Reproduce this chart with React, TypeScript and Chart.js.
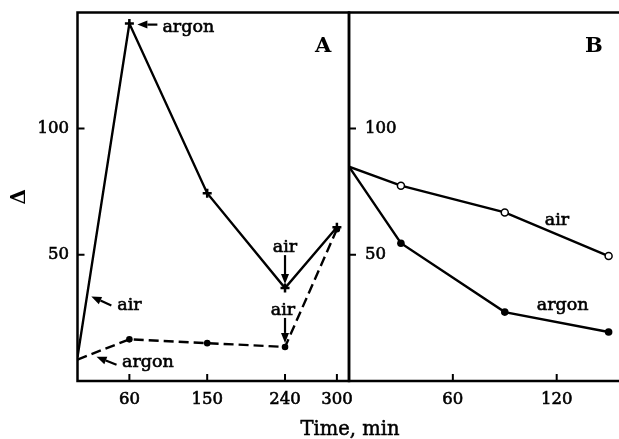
import React, { useEffect, useRef } from 'react';
import { Chart, registerables } from 'chart.js';

Chart.register(...registerables);

// ---- data ----
const A_TIMES = [0, 60, 150, 240, 300];
const A_SOLID = [9.5, 141.6, 74.4, 36.8, 60.9];
const A_DASHED = [8.5, 16.5, 15.0, 13.5, 60.1];

const B_TIMES = [0, 30, 90, 150];
const B_AIR = [84.9, 77.4, 66.8, 49.5];
const B_ARGON = [84.9, 54.6, 27.3, 19.4];

const Y_TICKS = [50, 100];
const A_X_TICKS = [60, 150, 240, 300];
const B_X_TICKS = [60, 120];

const Y_RANGE = [0, 146];
const A_X_RANGE = [0, 314];
const B_X_RANGE = [0, 156];

const SERIF = '"DejaVu Serif", serif';

type Note = {
  at: [number, number];
  text: string;
  t: [number, number];
  align?: CanvasTextAlign;
  arrow?: [number, number, number, number];
};

const A_NOTES: Note[] = [
  { at: [60, 141.6], text: 'argon', t: [33, 8.5], arrow: [28, 1, 8, 1] },
  { at: [16, 33.5], text: 'air', t: [26, 14], arrow: [20, 9, 0, 0] },
  { at: [22, 9.6], text: 'argon', t: [25.5, 10], arrow: [20, 8, 0, 0] },
  { at: [240, 36.8], text: 'air', t: [0, -36], align: 'center', arrow: [0, -33, 0, -4] },
  { at: [240, 13.5], text: 'air', t: [-2, -32], align: 'center', arrow: [0, -29, 0, -4] },
];

const B_NOTES: Note[] = [
  { at: [90, 66.8], text: 'air', t: [40, 13] },
  { at: [90, 27.3], text: 'argon', t: [32, -2] },
];

const pts = (xs: number[], ys: number[]) => xs.map((x, i) => ({ x, y: ys[i] }));

function drawArrow(ctx: CanvasRenderingContext2D, x1: number, y1: number, x2: number, y2: number) {
  const ang = Math.atan2(y2 - y1, x2 - x1);
  const hl = 10;
  const hw = 4;
  const bx = x2 - hl * Math.cos(ang);
  const by = y2 - hl * Math.sin(ang);
  ctx.beginPath();
  ctx.moveTo(x1, y1);
  ctx.lineTo(bx, by);
  ctx.lineWidth = 2.2;
  ctx.stroke();
  ctx.beginPath();
  ctx.moveTo(x2, y2);
  ctx.lineTo(bx + hw * Math.sin(ang), by - hw * Math.cos(ang));
  ctx.lineTo(bx - hw * Math.sin(ang), by + hw * Math.cos(ang));
  ctx.closePath();
  ctx.fill();
}

function framePlugin(id: string, rightSide: boolean, notes: Note[], corner: string) {
  return {
    id,
    afterDatasetsDraw(chart: any) {
      const { ctx, chartArea: ca, scales } = chart;
      const xs = scales.x;
      const ys = scales.y;
      ctx.save();
      ctx.strokeStyle = '#000';
      ctx.fillStyle = '#000';
      ctx.lineCap = 'square';
      ctx.lineWidth = 2.5;
      ctx.beginPath();
      ctx.moveTo(ca.left, ca.bottom);
      ctx.lineTo(ca.left, ca.top);
      ctx.lineTo(ca.right, ca.top);
      if (rightSide) ctx.lineTo(ca.right, ca.bottom);
      else ctx.moveTo(ca.right, ca.bottom);
      ctx.lineTo(ca.left, ca.bottom);
      ctx.stroke();

      ctx.lineWidth = 2;
      ctx.lineCap = 'butt';
      ctx.beginPath();
      for (const t of xs.ticks) {
        const px = xs.getPixelForValue(t.value);
        ctx.moveTo(px, ca.bottom);
        ctx.lineTo(px, ca.bottom - 7);
      }
      for (const t of ys.ticks) {
        const py = ys.getPixelForValue(t.value);
        ctx.moveTo(ca.left, py);
        ctx.lineTo(ca.left + 7, py);
      }
      ctx.stroke();

      ctx.font = `17.5px ${SERIF}`;
      ctx.textBaseline = 'alphabetic';
      for (const n of notes) {
        const px = xs.getPixelForValue(n.at[0]);
        const py = ys.getPixelForValue(n.at[1]);
        if (n.arrow) {
          drawArrow(ctx, px + n.arrow[0], py + n.arrow[1], px + n.arrow[2], py + n.arrow[3]);
        }
        ctx.textAlign = n.align || 'left';
        ctx.lineWidth = 0.6;
        ctx.fillText(n.text, px + n.t[0], py + n.t[1]);
        ctx.strokeText(n.text, px + n.t[0], py + n.t[1]);
      }

      ctx.font = `bold 21px ${SERIF}`;
      ctx.textAlign = 'left';
      ctx.fillText(corner, ca.right - 34, ca.top + 39.5);
      ctx.restore();
    },
  };
}

const tickFont = { family: SERIF, size: 16.5 };

function baseScales(xRange: number[], xTicks: number[], mirror: boolean, yWidth: number, yPad: number) {
  return {
    x: {
      type: 'linear',
      min: xRange[0],
      max: xRange[1],
      grid: { display: false, drawTicks: false },
      border: { display: false },
      afterBuildTicks: (s: any) => {
        s.ticks = xTicks.map((v) => ({ value: v }));
      },
      afterFit: (s: any) => {
        s.height = 58;
        s.paddingLeft = 0;
        s.paddingRight = 0;
      },
      ticks: {
        color: '#000',
        font: tickFont,
        padding: 9,
        maxRotation: 0,
        textStrokeColor: '#000',
        textStrokeWidth: 0.6,
      },
    },
    y: {
      type: 'linear',
      min: Y_RANGE[0],
      max: Y_RANGE[1],
      grid: { display: false, drawTicks: false },
      border: { display: false },
      afterBuildTicks: (s: any) => {
        s.ticks = Y_TICKS.map((v) => ({ value: v }));
      },
      afterFit: (s: any) => {
        s.width = yWidth;
        s.paddingTop = 0;
        s.paddingBottom = 0;
      },
      ticks: {
        color: '#000',
        font: tickFont,
        padding: yPad,
        mirror,
        textStrokeColor: '#000',
        textStrokeWidth: 0.6,
      },
      title: mirror
        ? { display: false }
        : {
            display: true,
            text: 'Δ',
            color: '#000',
            font: { family: SERIF, size: 20, weight: 'bold' },
            padding: { top: 8, bottom: 0 },
          },
    },
  };
}

export default function App() {
  const refA = useRef<HTMLCanvasElement>(null);
  const refB = useRef<HTMLCanvasElement>(null);

  useEffect(() => {
    const noPoint = (v: number) => (c: any) => (c.dataIndex === 0 ? 0 : v);
    const chartA = new Chart(refA.current as HTMLCanvasElement, {
      type: 'line',
      data: {
        datasets: [
          {
            data: pts(A_TIMES, A_SOLID),
            borderColor: '#000',
            borderWidth: 2.4,
            pointStyle: 'cross',
            pointRadius: noPoint(4.5),
            pointBorderWidth: 2.5,
            pointBorderColor: '#000',
            pointBackgroundColor: '#000',
          },
          {
            data: pts(A_TIMES, A_DASHED),
            borderColor: '#000',
            borderWidth: 2.4,
            borderDash: [10, 5],
            pointRadius: noPoint(3.3),
            pointBorderWidth: 0,
            pointBackgroundColor: '#000',
            pointBorderColor: '#000',
          },
        ],
      } as any,
      options: {
        animation: false,
        responsive: false,
        events: [],
        layout: { autoPadding: false, padding: { left: 0, right: 270, top: 12.5, bottom: 0 } },
        plugins: { legend: { display: false }, tooltip: { enabled: false } },
        scales: baseScales(A_X_RANGE, A_X_TICKS, false, 77.5, 8.5) as any,
      },
      plugins: [framePlugin('frameA', true, A_NOTES, 'A')],
    });

    const chartB = new Chart(refB.current as HTMLCanvasElement, {
      type: 'line',
      data: {
        datasets: [
          {
            data: pts(B_TIMES, B_AIR),
            borderColor: '#000',
            borderWidth: 2.4,
            pointRadius: noPoint(3.5),
            pointBorderWidth: 1.5,
            pointBackgroundColor: '#fff',
            pointBorderColor: '#000',
          },
          {
            data: pts(B_TIMES, B_ARGON),
            borderColor: '#000',
            borderWidth: 2.4,
            pointRadius: noPoint(3.8),
            pointBorderWidth: 0,
            pointBackgroundColor: '#000',
            pointBorderColor: '#000',
          },
        ],
      } as any,
      options: {
        animation: false,
        responsive: false,
        events: [],
        layout: { autoPadding: false, padding: { left: 349, right: 0, top: 12.5, bottom: 0 } },
        plugins: { legend: { display: false }, tooltip: { enabled: false } },
        scales: baseScales(B_X_RANGE, B_X_TICKS, true, 0, 16) as any,
      },
      plugins: [framePlugin('frameB', false, B_NOTES, 'B')],
    });

    return () => {
      chartA.destroy();
      chartB.destroy();
    };
  }, []);

  const canvasStyle: React.CSSProperties = {
    position: 'absolute',
    left: 0,
    top: 0,
    width: 619,
    height: 439,
  };

  return (
    <div
      style={{
        position: 'fixed',
        left: 0,
        top: 0,
        width: 619,
        height: 439,
        background: '#fff',
        overflow: 'hidden',
      }}
    >
      <canvas ref={refA} width={619} height={439} style={canvasStyle} />
      <canvas ref={refB} width={619} height={439} style={canvasStyle} />
      <div
        style={{
          position: 'absolute',
          left: 250,
          top: 418,
          width: 200,
          textAlign: 'center',
          fontFamily: SERIF,
          fontSize: 19.5,
          lineHeight: '22px',
          color: '#000',
          whiteSpace: 'nowrap',
          WebkitTextStroke: '0.5px #000',
        }}
      >
        Time, min
      </div>
    </div>
  );
}
